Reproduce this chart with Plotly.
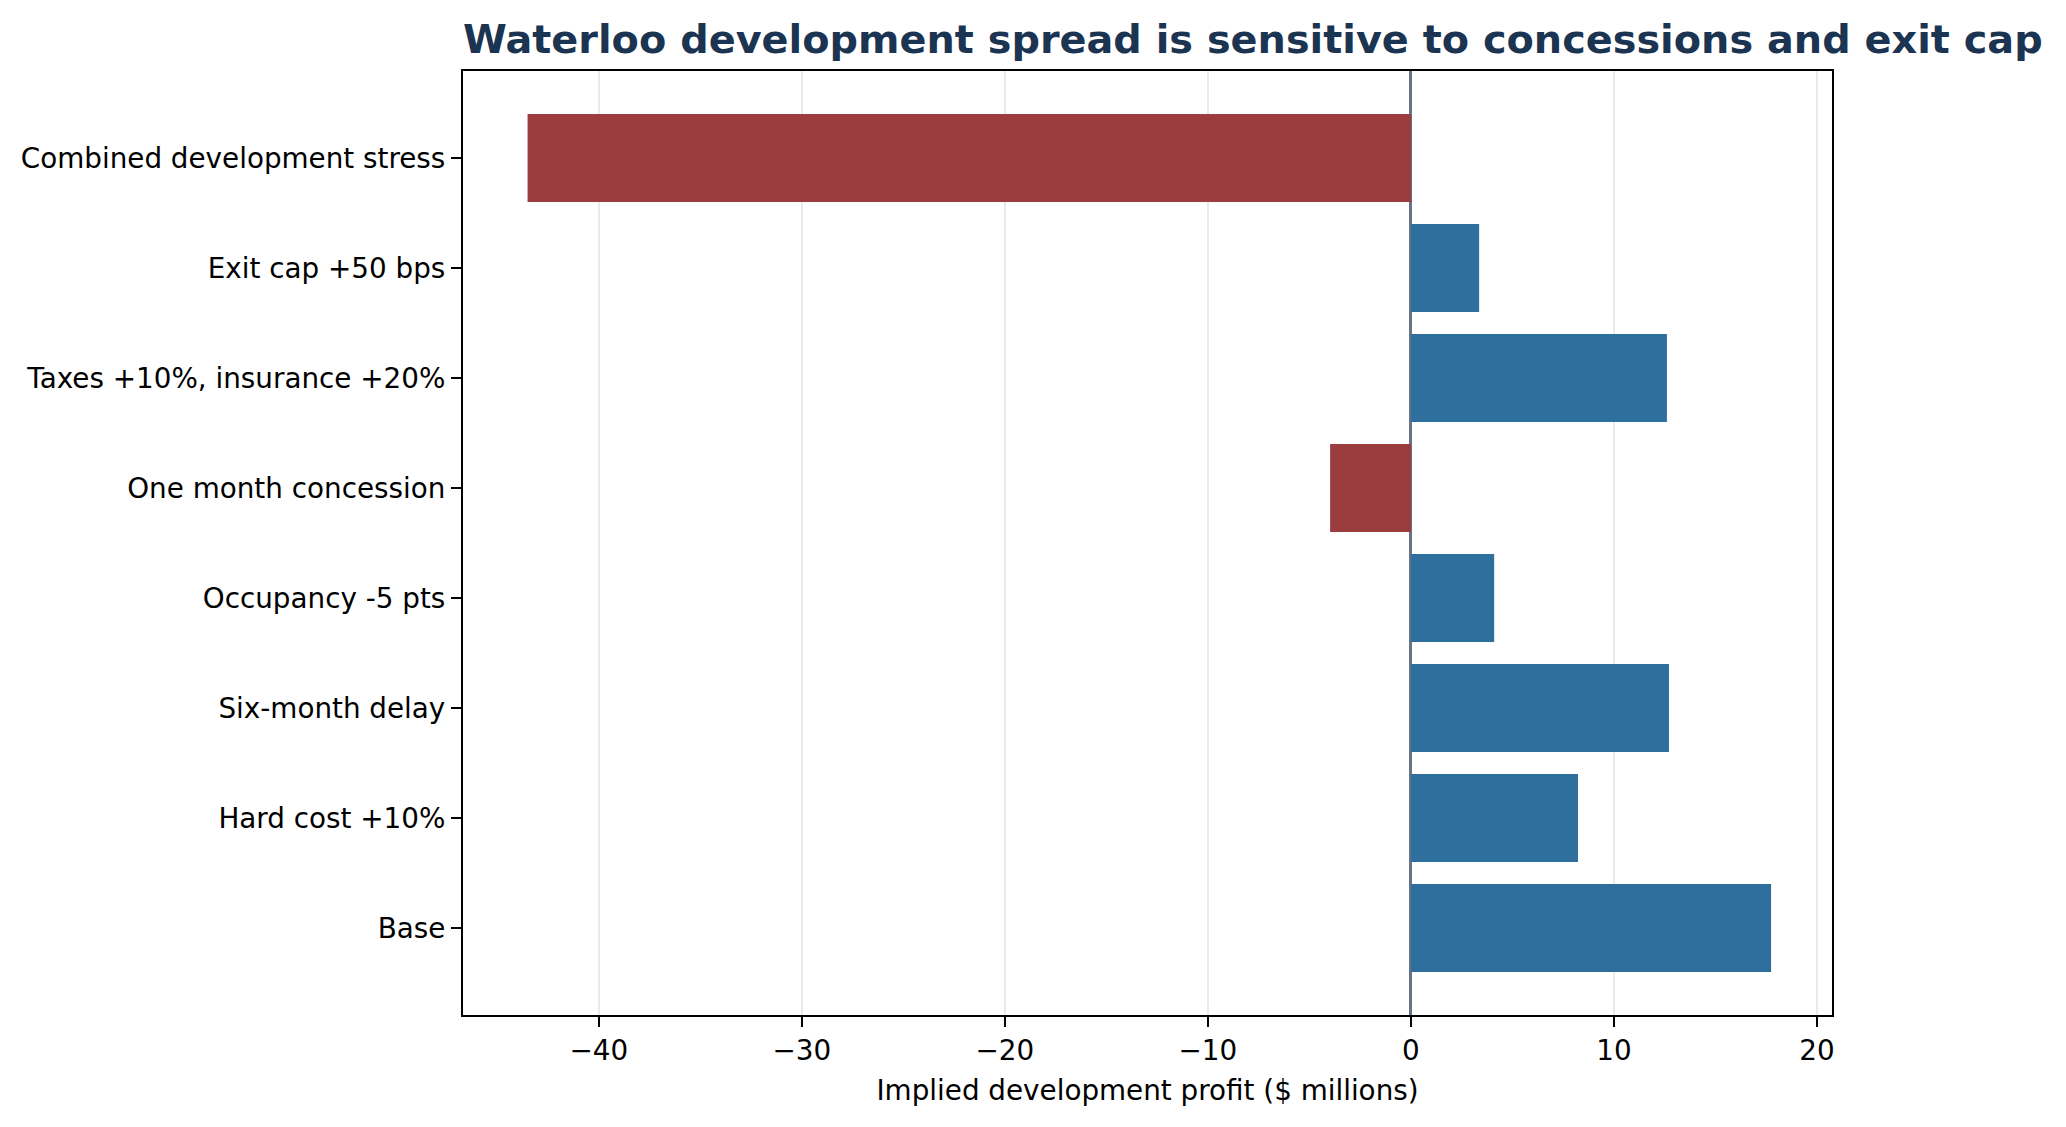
import plotly.graph_objects as go

categories = ["Base", "Hard cost +10%", "Six-month delay", "Occupancy -5 pts",
              "One month concession", "Taxes +10%, insurance +20%",
              "Exit cap +50 bps", "Combined development stress"]
values = [17.74, 8.23, 12.71, 4.10, -3.98, 12.61, 3.36, -43.51]
x_ticks = [-40, -30, -20, -10, 0, 10, 20]

POS = "#2e6f9e"
NEG = "#9b3d3f"
colors = [POS if v >= 0 else NEG for v in values]

W, H = 2066, 1127
L, R, T, B = 463, 2066 - 1832, 71, 1127 - 1015

fig = go.Figure(go.Bar(
    x=values, y=categories, orientation="h",
    marker=dict(color=colors, line=dict(width=0)),
    width=0.8,
))

fig.update_layout(
    width=W, height=H,
    margin=dict(l=L, r=R, t=T, b=B, pad=0),
    paper_bgcolor="white", plot_bgcolor="white",
    font=dict(family="DejaVu Sans", size=27.8, color="black"),
    showlegend=False,
    title=dict(
        text="<b>Waterloo development spread is sensitive to concessions and exit cap</b>",
        font=dict(family="DejaVu Sans", size=39.8, color="#1b3451"),
        xref="paper", x=0, xanchor="left",
        yref="container", y=1 - 39 / H, yanchor="middle",
    ),
    xaxis=dict(
        range=[-46.69, 20.74],
        tickmode="array", tickvals=x_ticks,
        ticks="outside", ticklen=10, tickwidth=2.2, tickcolor="black",
        showgrid=True, gridcolor="rgba(200,200,200,0.38)", gridwidth=2,
        zeroline=True, zerolinecolor="#687386", zerolinewidth=3,
        showline=True, linecolor="black", linewidth=2.2, mirror=True,
        layer="above traces",
        title=dict(text="Implied development profit ($ millions)", standoff=14,
                   font=dict(size=27.8)),
        tickfont=dict(size=27.8),
    ),
    yaxis=dict(
        type="category", categoryorder="array", categoryarray=categories,
        range=[-0.79, 7.79],
        ticks="outside", ticklen=10, tickwidth=2.2, tickcolor="black",
        showgrid=False, zeroline=False,
        showline=True, linecolor="black", linewidth=2.2, mirror=True,
        tickfont=dict(size=27.8),
    ),
    bargap=0.2,
)

fig.write_html("out.html")
